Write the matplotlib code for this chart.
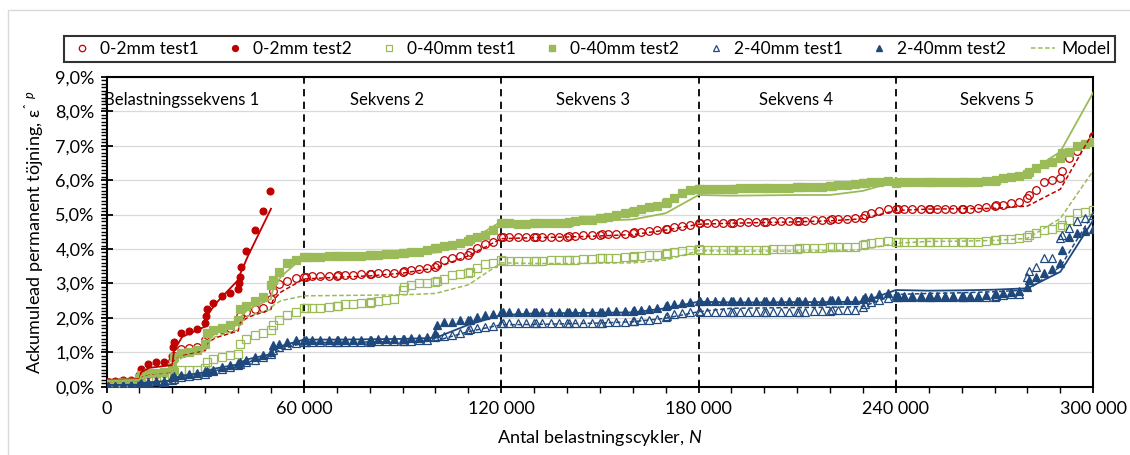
import matplotlib
matplotlib.use("Agg")
import matplotlib.pyplot as plt
import matplotlib.patches as patches
from matplotlib.lines import Line2D
from matplotlib.ticker import FuncFormatter, MultipleLocator
import numpy as np

plt.rcParams['font.family'] = ['Lato', 'DejaVu Sans']
plt.rcParams['mathtext.fontset'] = 'custom'
plt.rcParams['mathtext.rm'] = 'Lato'
plt.rcParams['mathtext.it'] = 'Lato:italic'

# measurement schedule: 30 load steps of 10 000 cycles, readings at these offsets
step_starts = [10000 * k for k in range(30)]
offsets = [0, 500, 2500, 5000, 7500]
n_end = 300000

# accumulated permanent strain (%), one row per load step
r1_rows = [
    [0.10, 0.13, 0.15, 0.16, 0.17], [0.25, 0.32, 0.36, 0.38, 0.40],
    [0.75, 0.90, 1.10, 1.14, 1.16], [1.35, 1.50, 1.64, 1.68, 1.72],
    [1.90, 2.05, 2.18, 2.26, 2.30], [2.55, 2.78, 2.99, 3.07, 3.16],
    [3.18, 3.20, 3.22, 3.22, 3.22], [3.23, 3.24, 3.25, 3.25, 3.27],
    [3.28, 3.28, 3.29, 3.31, 3.31], [3.34, 3.36, 3.39, 3.42, 3.44],
    [3.49, 3.55, 3.68, 3.75, 3.79], [3.83, 3.92, 4.02, 4.15, 4.21],
    [4.34, 4.34, 4.34, 4.34, 4.34], [4.35, 4.34, 4.36, 4.36, 4.36],
    [4.36, 4.38, 4.38, 4.40, 4.40], [4.41, 4.43, 4.43, 4.44, 4.45],
    [4.46, 4.50, 4.50, 4.52, 4.55], [4.57, 4.59, 4.63, 4.67, 4.71],
    [4.76, 4.75, 4.75, 4.75, 4.75], [4.75, 4.77, 4.78, 4.78, 4.78],
    [4.78, 4.79, 4.80, 4.80, 4.80], [4.81, 4.82, 4.82, 4.83, 4.84],
    [4.84, 4.86, 4.87, 4.88, 4.90], [4.91, 4.98, 5.05, 5.11, 5.17],
    [5.16, 5.16, 5.16, 5.16, 5.16], [5.16, 5.16, 5.16, 5.16, 5.16],
    [5.16, 5.16, 5.16, 5.19, 5.22], [5.25, 5.28, 5.28, 5.33, 5.38],
    [5.47, 5.58, 5.72, 5.96, 6.01], [6.06, 6.28, 6.64, 6.85, 7.05],
]
r1_end = 7.27

# 0-2mm test2 failed during the first sequence
r2_n = [0, 500, 2500, 5000, 7500, 10000, 10500, 12500, 15000, 17500,
        20000, 20200, 20500, 22500, 25000, 27500,
        30000, 30200, 30500, 32500, 35000, 37500,
        40000, 40200, 40500, 41000, 42500, 45000, 47500, 49800]
r2_vals = [0.12, 0.15, 0.18, 0.20, 0.20, 0.35, 0.53, 0.66, 0.72, 0.73,
           0.90, 1.15, 1.30, 1.55, 1.62, 1.67,
           1.85, 2.05, 2.25, 2.42, 2.63, 2.72,
           2.85, 3.00, 3.20, 3.48, 3.95, 4.56, 5.11, 5.68]

g1_rows = [
    [0.05, 0.08, 0.10, 0.12, 0.13], [0.18, 0.20, 0.22, 0.25, 0.27],
    [0.30, 0.42, 0.48, 0.49, 0.50], [0.55, 0.72, 0.82, 0.87, 0.92],
    [0.95, 1.25, 1.38, 1.50, 1.55], [1.65, 1.79, 1.94, 2.08, 2.18],
    [2.28, 2.28, 2.28, 2.30, 2.31], [2.34, 2.35, 2.39, 2.40, 2.42],
    [2.44, 2.45, 2.50, 2.52, 2.54], [2.81, 2.91, 2.96, 3.00, 3.02],
    [3.05, 3.07, 3.12, 3.25, 3.28], [3.31, 3.33, 3.44, 3.56, 3.59],
    [3.68, 3.66, 3.66, 3.66, 3.66], [3.66, 3.66, 3.66, 3.68, 3.68],
    [3.68, 3.68, 3.68, 3.70, 3.71], [3.73, 3.73, 3.73, 3.74, 3.76],
    [3.78, 3.79, 3.80, 3.82, 3.83], [3.86, 3.88, 3.91, 3.94, 3.97],
    [3.99, 3.97, 3.97, 3.97, 3.97], [3.97, 3.97, 3.97, 3.98, 3.98],
    [3.98, 3.98, 3.99, 3.99, 4.00], [4.01, 4.02, 4.02, 4.03, 4.04],
    [4.05, 4.06, 4.06, 4.07, 4.07], [4.11, 4.14, 4.17, 4.20, 4.23],
    [4.19, 4.19, 4.19, 4.19, 4.19], [4.19, 4.19, 4.19, 4.19, 4.19],
    [4.19, 4.19, 4.20, 4.20, 4.22], [4.26, 4.27, 4.28, 4.30, 4.32],
    [4.36, 4.40, 4.46, 4.55, 4.57], [4.63, 4.70, 4.84, 5.04, 5.09],
]
g1_end = 5.12

g2_rows = [
    [0.08, 0.10, 0.12, 0.14, 0.15], [0.24, 0.35, 0.39, 0.41, 0.42],
    [0.58, 0.87, 0.97, 1.02, 1.07], [1.25, 1.55, 1.65, 1.72, 1.78],
    [1.95, 2.25, 2.35, 2.50, 2.61], [2.95, 3.10, 3.34, 3.59, 3.68],
    [3.78, 3.78, 3.78, 3.78, 3.79], [3.80, 3.80, 3.80, 3.81, 3.81],
    [3.82, 3.83, 3.84, 3.86, 3.87], [3.88, 3.89, 3.90, 3.92, 3.96],
    [4.02, 4.04, 4.08, 4.12, 4.17], [4.22, 4.30, 4.36, 4.41, 4.55],
    [4.77, 4.75, 4.75, 4.73, 4.73], [4.75, 4.75, 4.75, 4.75, 4.75],
    [4.77, 4.78, 4.80, 4.83, 4.84], [4.89, 4.90, 4.94, 4.99, 5.04],
    [5.09, 5.11, 5.16, 5.21, 5.25], [5.33, 5.38, 5.47, 5.64, 5.72],
    [5.74, 5.74, 5.74, 5.74, 5.74], [5.74, 5.75, 5.77, 5.77, 5.77],
    [5.77, 5.77, 5.77, 5.77, 5.77], [5.79, 5.79, 5.79, 5.80, 5.81],
    [5.83, 5.84, 5.85, 5.87, 5.89], [5.91, 5.92, 5.94, 5.96, 5.98],
    [5.93, 5.96, 5.96, 5.96, 5.96], [5.96, 5.96, 5.96, 5.96, 5.96],
    [5.96, 5.96, 5.96, 5.96, 5.98], [5.99, 6.00, 6.05, 6.09, 6.13],
    [6.18, 6.25, 6.35, 6.47, 6.54], [6.64, 6.80, 6.83, 6.98, 7.05],
]
g2_end = 7.12

b1_rows = [
    [0.01, 0.02, 0.02, 0.03, 0.04], [0.06, 0.08, 0.10, 0.12, 0.13],
    [0.20, 0.22, 0.27, 0.32, 0.35], [0.38, 0.42, 0.46, 0.52, 0.56],
    [0.62, 0.66, 0.72, 0.79, 0.86], [0.95, 1.08, 1.15, 1.22, 1.28],
    [1.31, 1.31, 1.31, 1.31, 1.31], [1.31, 1.31, 1.31, 1.31, 1.31],
    [1.31, 1.32, 1.32, 1.32, 1.33], [1.33, 1.33, 1.34, 1.35, 1.36],
    [1.45, 1.46, 1.47, 1.50, 1.55], [1.65, 1.67, 1.70, 1.74, 1.76],
    [1.86, 1.84, 1.84, 1.84, 1.84], [1.84, 1.84, 1.84, 1.84, 1.84],
    [1.84, 1.84, 1.85, 1.85, 1.85], [1.86, 1.86, 1.87, 1.87, 1.88],
    [1.91, 1.92, 1.94, 1.94, 1.96], [2.02, 2.05, 2.10, 2.13, 2.18],
    [2.21, 2.18, 2.18, 2.18, 2.18], [2.18, 2.18, 2.18, 2.18, 2.18],
    [2.18, 2.18, 2.18, 2.18, 2.18], [2.18, 2.18, 2.18, 2.19, 2.19],
    [2.21, 2.22, 2.22, 2.22, 2.24], [2.31, 2.40, 2.47, 2.52, 2.57],
    [2.60, 2.60, 2.60, 2.60, 2.60], [2.60, 2.60, 2.60, 2.60, 2.60],
    [2.60, 2.60, 2.60, 2.60, 2.62], [2.62, 2.64, 2.66, 2.68, 2.70],
    [3.20, 3.35, 3.49, 3.73, 3.73], [4.31, 4.40, 4.60, 4.80, 4.89],
]
b1_end = 4.99

b2_rows = [
    [0.02, 0.03, 0.03, 0.04, 0.05], [0.10, 0.12, 0.14, 0.16, 0.17],
    [0.27, 0.30, 0.33, 0.37, 0.41], [0.45, 0.47, 0.50, 0.58, 0.63],
    [0.68, 0.72, 0.77, 0.85, 0.92], [1.01, 1.20, 1.25, 1.30, 1.35],
    [1.36, 1.36, 1.36, 1.36, 1.37], [1.37, 1.37, 1.37, 1.37, 1.37],
    [1.37, 1.37, 1.38, 1.38, 1.38], [1.38, 1.38, 1.41, 1.43, 1.45],
    [1.55, 1.79, 1.89, 1.89, 1.94], [1.94, 1.95, 2.03, 2.08, 2.11],
    [2.18, 2.18, 2.18, 2.18, 2.18], [2.18, 2.18, 2.18, 2.18, 2.18],
    [2.18, 2.18, 2.18, 2.18, 2.18], [2.18, 2.18, 2.19, 2.19, 2.20],
    [2.21, 2.22, 2.23, 2.26, 2.28], [2.34, 2.36, 2.40, 2.44, 2.47],
    [2.49, 2.49, 2.49, 2.49, 2.49], [2.49, 2.49, 2.49, 2.49, 2.49],
    [2.49, 2.49, 2.49, 2.49, 2.49], [2.49, 2.49, 2.50, 2.50, 2.50],
    [2.52, 2.52, 2.52, 2.52, 2.52], [2.55, 2.60, 2.62, 2.68, 2.72],
    [2.66, 2.64, 2.64, 2.64, 2.64], [2.64, 2.64, 2.64, 2.64, 2.64],
    [2.64, 2.64, 2.64, 2.64, 2.66], [2.68, 2.70, 2.72, 2.75, 2.78],
    [2.91, 3.10, 3.20, 3.29, 3.41], [3.59, 3.97, 4.36, 4.46, 4.52],
]
b2_end = 4.57

# model curves, evaluated at these cycle counts
model_n = [0, 10000, 10500, 13000, 20000, 20500, 23000, 30000, 30500, 33000,
           40000, 40500, 43000, 50000, 50500, 53000, 60000,
           70000, 80000, 90000, 100000, 110000, 120000,
           130000, 140000, 150000, 160000, 170000, 180000,
           190000, 200000, 210000, 220000, 230000, 240000,
           250000, 260000, 270000, 280000, 290000, 300000]
r1_model = [0.15, 0.17, 0.30, 0.36, 0.42, 0.75, 0.92, 1.05, 1.25, 1.42,
            1.62, 1.85, 2.02, 2.25, 2.50, 2.75, 3.13,
            3.18, 3.22, 3.30, 3.45, 3.80, 4.30,
            4.33, 4.35, 4.38, 4.42, 4.55, 4.72,
            4.75, 4.77, 4.79, 4.82, 4.88, 5.12,
            5.16, 5.17, 5.18, 5.25, 5.74, 7.41]
r2_model = [0.20, 0.22, 0.42, 0.55, 0.63, 1.05, 1.45, 1.75, 2.05, 2.40,
            3.10, 3.25, 3.80, 5.17]
g1_model = [0.15, 0.17, 0.25, 0.32, 0.40, 0.62, 0.85, 1.05, 1.25, 1.45,
            1.65, 1.85, 2.05, 2.25, 2.35, 2.50, 2.64,
            2.65, 2.66, 2.67, 2.71, 2.96, 3.60,
            3.58, 3.58, 3.59, 3.60, 3.68, 3.95,
            3.94, 3.94, 3.94, 3.95, 3.98, 4.17,
            4.22, 4.23, 4.25, 4.31, 4.89, 6.28]
g2_model = [0.18, 0.20, 0.32, 0.38, 0.45, 0.70, 0.95, 1.10, 1.30, 1.55,
            1.80, 2.00, 2.25, 2.55, 2.80, 3.20, 3.78,
            3.80, 3.82, 3.84, 3.90, 4.22, 4.80,
            4.80, 4.81, 4.82, 4.86, 5.04, 5.57,
            5.55, 5.56, 5.57, 5.57, 5.69, 5.96,
            6.00, 6.02, 6.05, 6.20, 6.83, 8.55]
b1_model = [0.03, 0.04, 0.07, 0.10, 0.14, 0.20, 0.27, 0.36, 0.40, 0.47,
            0.58, 0.63, 0.72, 0.87, 0.96, 1.08, 1.28,
            1.29, 1.30, 1.31, 1.33, 1.60, 1.80,
            1.81, 1.83, 1.85, 1.89, 1.99, 2.18,
            2.28, 2.29, 2.30, 2.31, 2.33, 2.68,
            2.71, 2.73, 2.76, 2.81, 3.49, 5.04]
b2_model = [0.05, 0.06, 0.10, 0.13, 0.18, 0.25, 0.32, 0.42, 0.46, 0.53,
            0.65, 0.70, 0.80, 0.95, 1.05, 1.18, 1.37,
            1.37, 1.38, 1.39, 1.42, 1.80, 2.08,
            2.13, 2.14, 2.15, 2.16, 2.28, 2.47,
            2.45, 2.45, 2.46, 2.46, 2.47, 2.81,
            2.79, 2.80, 2.82, 2.86, 3.34, 4.84]

sequence_edges = [60000, 120000, 180000, 240000]
sequence_labels = ['Belastningssekvens 1', 'Sekvens 2', 'Sekvens 3', 'Sekvens 4', 'Sekvens 5']
sequence_label_x = [-800, 74000, 136700, 198300, 259600]

RED = '#C00000'
GREEN = '#9BBB59'
BLUE = '#1F497D'


def expand(rows, end):
    n = [s + o for s in step_starts for o in offsets] + [n_end]
    v = [x for row in rows for x in row] + [end]
    return np.array(n), np.array(v)


fig = plt.figure(figsize=(11.3, 4.55), dpi=100)
ax = fig.add_axes([0.0943, 0.150, 0.8732, 0.681])

# outer chart border
fig.patches.append(patches.Rectangle((8 / 1130, -0.1), 1.2, 1.1 - 10 / 455,
                                     transform=fig.transFigure, fill=False,
                                     ec='#D9D9D9', lw=1.0))

ms = 5.2
mew = 0.9
series = [
    (expand(r1_rows, r1_end), dict(marker='o', mfc='none', mec=RED, ms=ms + 0.3)),
    ((np.array(r2_n), np.array(r2_vals)), dict(marker='o', mfc=RED, mec=RED, ms=ms - 0.3)),
    (expand(g1_rows, g1_end), dict(marker='s', mfc='none', mec=GREEN, ms=ms)),
    (expand(g2_rows, g2_end), dict(marker='s', mfc=GREEN, mec=GREEN, ms=ms)),
    (expand(b1_rows, b1_end), dict(marker='^', mfc='none', mec=BLUE, ms=ms)),
    (expand(b2_rows, b2_end), dict(marker='^', mfc=BLUE, mec=BLUE, ms=ms)),
]
for (n, v), style in series:
    ax.plot(n, v, ls='none', mew=mew, zorder=3, **style)

dash = (0, (3, 1.6))
ax.plot(model_n, r1_model, color=RED, lw=1.1, ls=dash, zorder=4)
ax.plot(model_n[:len(r2_model)], r2_model, color=RED, lw=1.3, zorder=4)
ax.plot(model_n, g1_model, color=GREEN, lw=1.1, ls=dash, zorder=4)
ax.plot(model_n, g2_model, color=GREEN, lw=1.3, zorder=4)
ax.plot(model_n, b1_model, color=BLUE, lw=1.1, ls=dash, zorder=4)
ax.plot(model_n, b2_model, color=BLUE, lw=1.3, zorder=4)

for edge in sequence_edges:
    ax.axvline(edge, color='black', lw=1.3, ls=(0, (4, 3)), zorder=2)

for label, x in zip(sequence_labels, sequence_label_x):
    ax.text(x, 8.33, label, fontsize=12, ha='left', va='center', zorder=5)

ax.set_xlim(0, 300000)
ax.set_ylim(0, 9)
ax.xaxis.set_major_locator(MultipleLocator(60000))
ax.xaxis.set_minor_locator(MultipleLocator(10000))
ax.yaxis.set_major_locator(MultipleLocator(1))
ax.yaxis.set_minor_locator(MultipleLocator(0.1))
ax.xaxis.set_major_formatter(FuncFormatter(lambda v, p: f'{int(v):,}'.replace(',', ' ')))
ax.yaxis.set_major_formatter(FuncFormatter(lambda v, p: f'{v:.1f}%'.replace('.', ',')))
ax.grid(axis='y', color='#D9D9D9', lw=0.9, zorder=0)
ax.set_axisbelow(True)

for side in ['left', 'right', 'top', 'bottom']:
    ax.spines[side].set_linewidth(1.5)
ax.tick_params(which='major', direction='inout', length=9, width=1.3, labelsize=13, pad=6)
ax.tick_params(which='minor', direction='out', length=4, width=1.0)
ax.tick_params(axis='y', which='major', pad=4)

ax.set_xlabel('Antal belastningscykler, $N$', fontsize=13, labelpad=8)
ax.set_ylabel('Ackumulead permanent töjning, ε$^{ˆ\\ \\ p}$', fontsize=13, labelpad=6)

handles = [
    Line2D([], [], ls='none', marker='o', mfc='none', mec=RED, ms=ms - 0.6, mew=mew),
    Line2D([], [], ls='none', marker='o', mfc=RED, mec=RED, ms=ms - 1.0),
    Line2D([], [], ls='none', marker='s', mfc='none', mec=GREEN, ms=ms - 1.0, mew=mew),
    Line2D([], [], ls='none', marker='s', mfc=GREEN, mec=GREEN, ms=ms - 1.0),
    Line2D([], [], ls='none', marker='^', mfc='none', mec=BLUE, ms=ms - 1.0, mew=mew),
    Line2D([], [], ls='none', marker='^', mfc=BLUE, mec=BLUE, ms=ms - 1.0),
    Line2D([], [], color=GREEN, lw=1.1, ls=dash),
]
labels = ['0-2mm test1', '0-2mm test2', '0-40mm test1', '0-40mm test2',
          '2-40mm test1', '2-40mm test2', 'Model']
leg = fig.legend(handles, labels, loc='center', bbox_to_anchor=(0.522, 0.892),
                 ncol=7, fontsize=12.5, frameon=True, fancybox=False,
                 edgecolor='black', handlelength=1.4, handletextpad=0.35,
                 columnspacing=1.4, borderpad=0.3)
leg.get_frame().set_linewidth(1.5)

fig.savefig('out.png', dpi=100)
